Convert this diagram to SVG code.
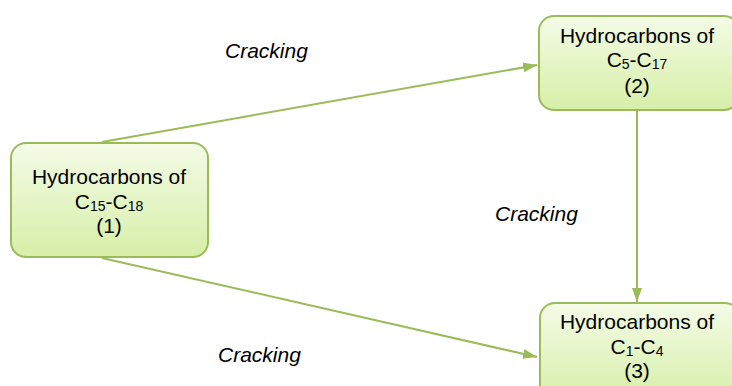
<svg xmlns="http://www.w3.org/2000/svg" width="732" height="386" viewBox="0 0 732 386">
<style>
.box{stroke:#9bbb59;stroke-width:2;fill:url(#g)}
.t{font-family:"Liberation Sans",Arial,sans-serif;font-size:21px;fill:#000;text-anchor:middle}
.s{font-size:14px}
.lbl{font-family:"Liberation Sans",Arial,sans-serif;font-size:21px;font-style:italic;fill:#000}
.c{stroke:#9bbb59;stroke-width:2;fill:none;marker-end:url(#ah)}
</style>
<defs>
<linearGradient id="g" x1="0" y1="0" x2="0" y2="1">
<stop offset="0" stop-color="#f4fbe6"/>
<stop offset="1" stop-color="#d6efa8"/>
</linearGradient>
<marker id="ah" viewBox="0 0 14 10" refX="14" refY="5" markerWidth="14" markerHeight="10" markerUnits="userSpaceOnUse" orient="auto">
<path d="M0,0 L14,5 L0,10 Z" fill="#9bbb59"/>
</marker>
</defs>
<rect width="732" height="386" fill="#fff"/>
<g id="connectors">
<line class="c" x1="102" y1="142" x2="537" y2="65"/>
<line class="c" x1="102" y1="258" x2="537" y2="357"/>
<line class="c" x1="637" y1="111" x2="637" y2="302"/>
</g>
<g id="node1">
<rect class="box" x="11" y="143" width="197" height="114" rx="15"/>
<text class="t" x="109" y="184">Hydrocarbons of</text>
<text class="t" x="109" y="209">C<tspan class="s" dy="2">15</tspan><tspan dy="-2">-C</tspan><tspan class="s" dy="2">18</tspan></text>
<text class="t" x="109" y="233">(1)</text>
</g>
<g id="node2">
<rect class="box" x="539" y="16" width="200" height="94" rx="15"/>
<text class="t" x="637" y="43">Hydrocarbons of</text>
<text class="t" x="637" y="67">C<tspan class="s" dy="2">5</tspan><tspan dy="-2">-C</tspan><tspan class="s" dy="2">17</tspan></text>
<text class="t" x="637" y="93">(2)</text>
</g>
<g id="node3">
<rect class="box" x="540" y="303" width="200" height="100" rx="15"/>
<text class="t" x="637" y="329">Hydrocarbons of</text>
<text class="t" x="637" y="354">C<tspan class="s" dy="2">1</tspan><tspan dy="-2">-C</tspan><tspan class="s" dy="2">4</tspan></text>
<text class="t" x="637" y="378">(3)</text>
</g>
<g id="labels">
<text class="lbl" x="225" y="58">Cracking</text>
<text class="lbl" x="495" y="221">Cracking</text>
<text class="lbl" x="218" y="362">Cracking</text>
</g>
</svg>
